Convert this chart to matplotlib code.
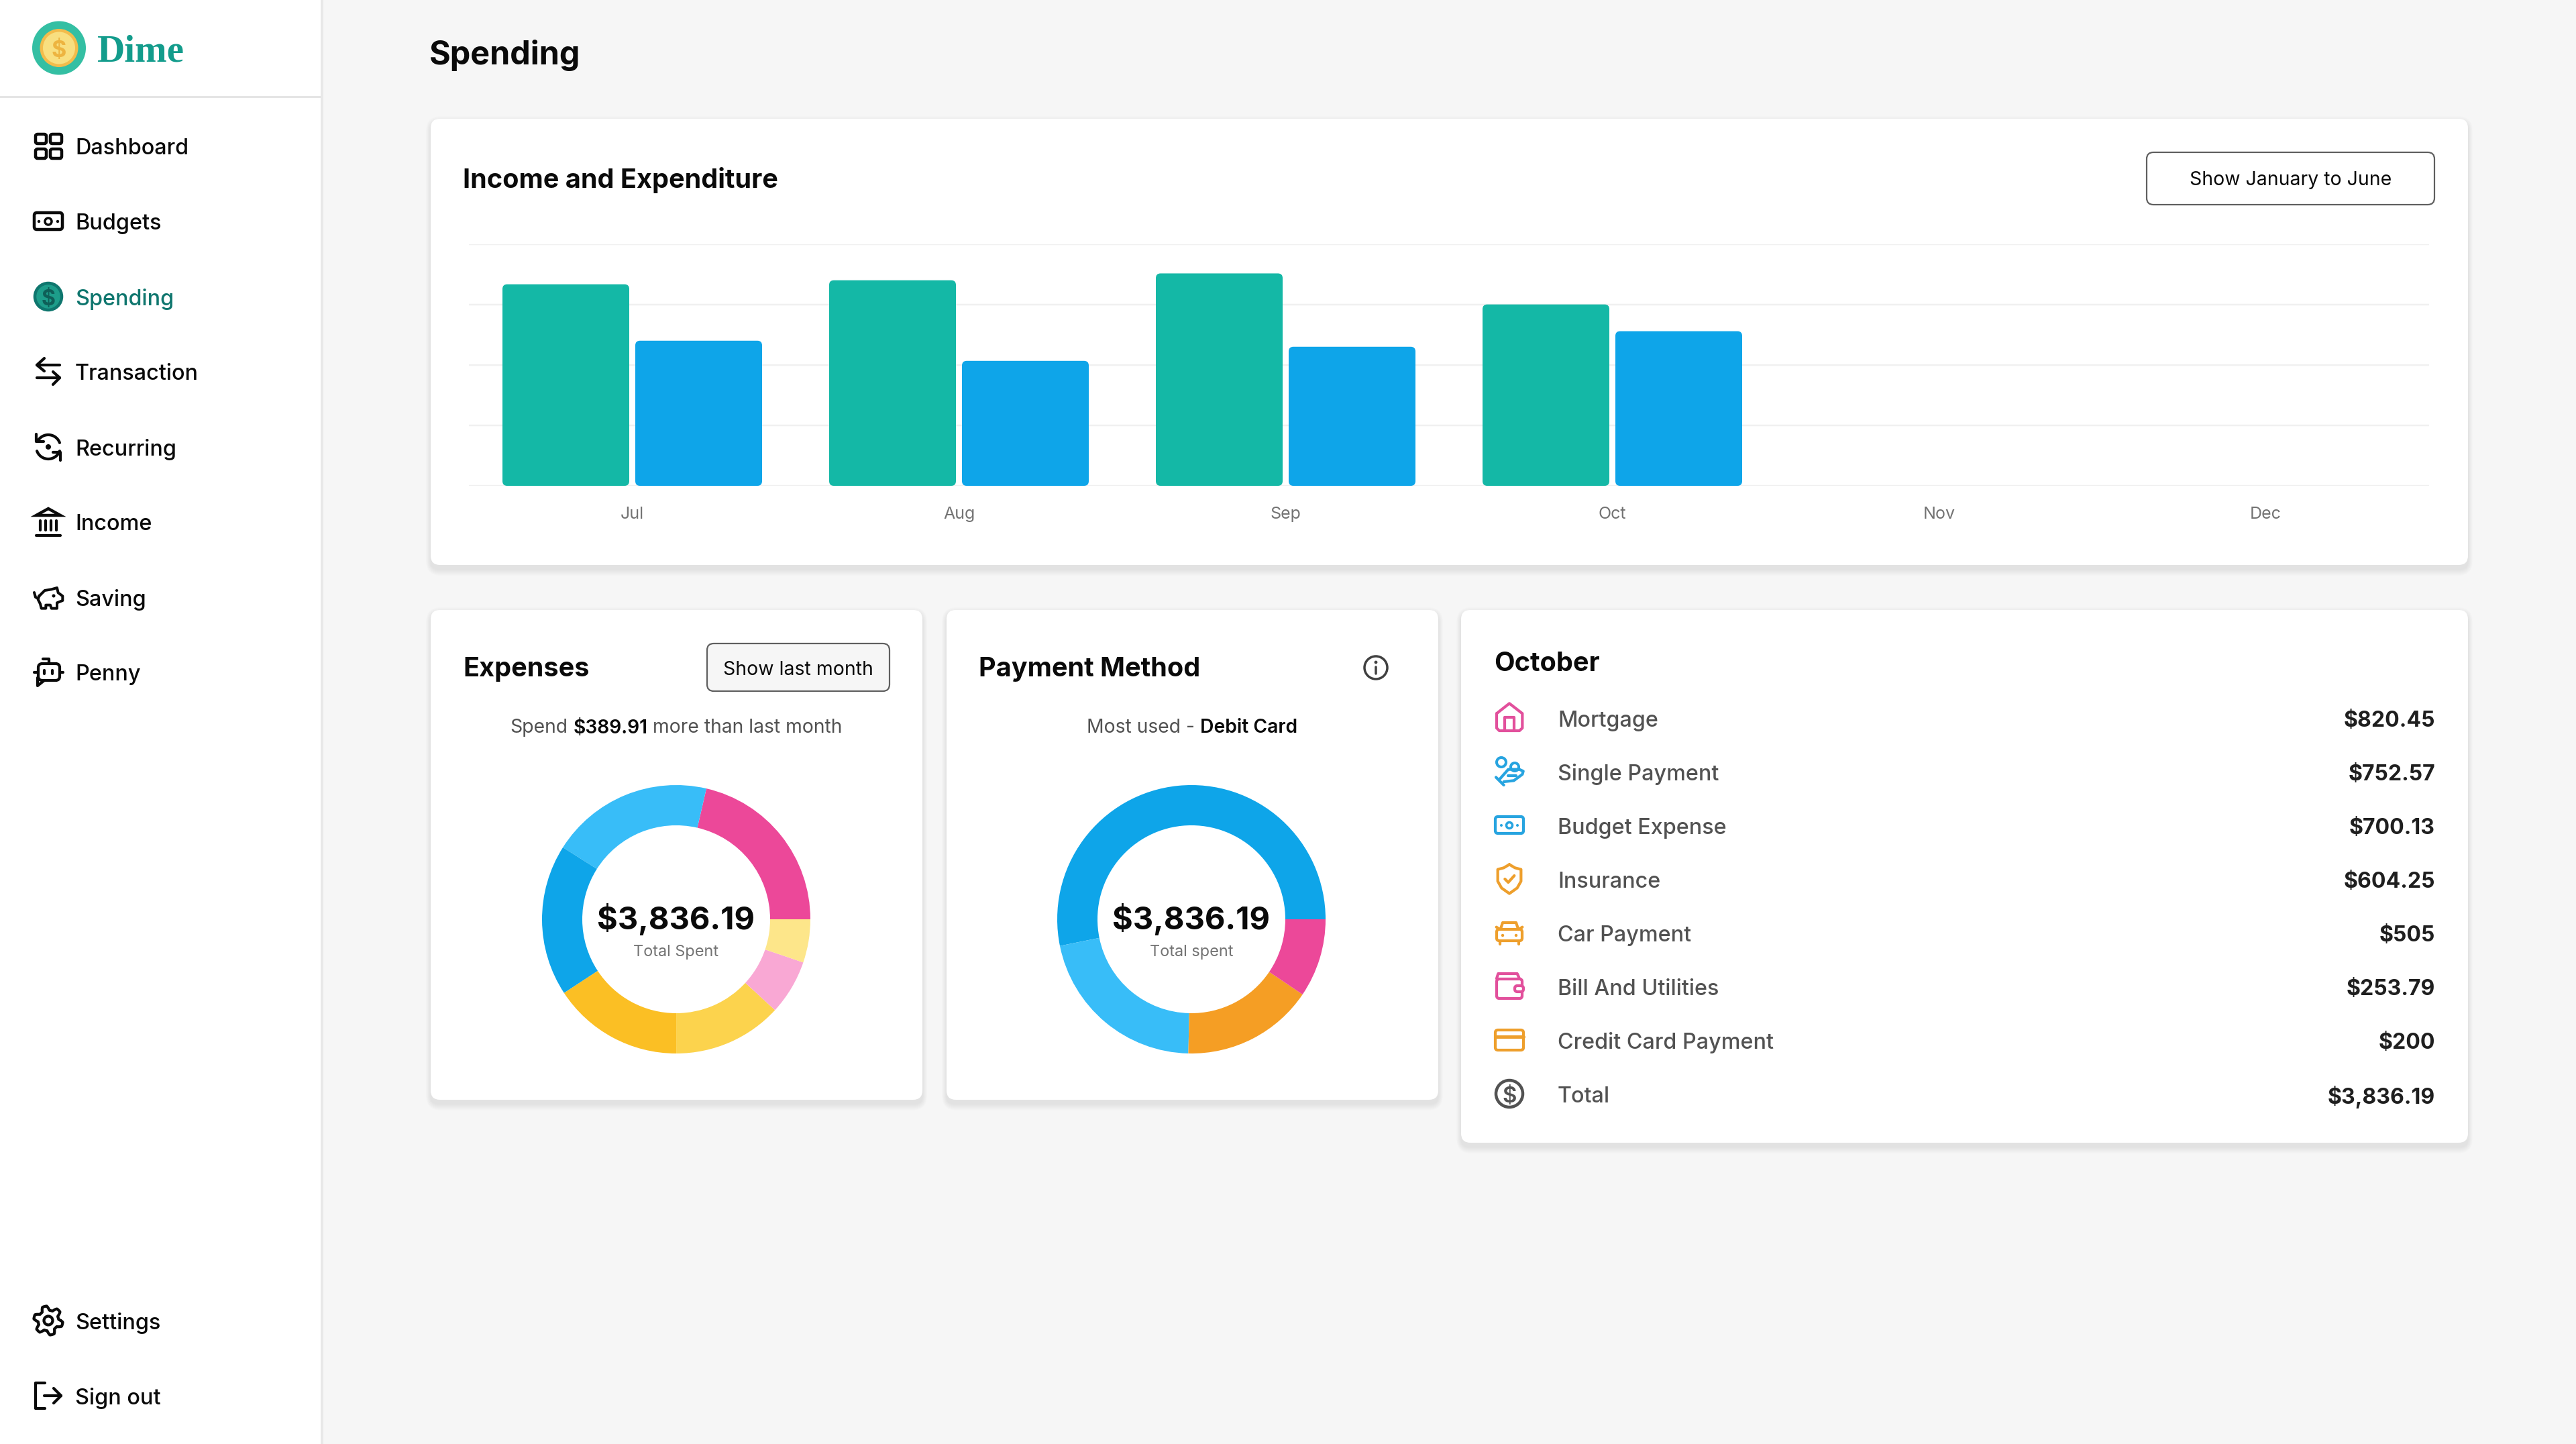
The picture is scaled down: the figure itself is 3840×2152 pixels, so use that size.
import numpy as np
import matplotlib
matplotlib.use('Agg')
import matplotlib.pyplot as plt
from matplotlib.patches import FancyBboxPatch, Circle, Polygon

plt.rcParams['font.family'] = ['Inter', 'DejaVu Sans']

W, H = 3840, 2152

# data
months = ['Jul', 'Aug', 'Sep', 'Oct', 'Nov', 'Dec']
income = [5000, 5100, 5270, 4500, 0, 0]
expenditure = [3600, 3100, 3450, 3836.19, 0, 0]
y_ticks = [0, 1500, 3000, 4500, 6000]

expense_names = ['Mortgage', 'Single Payment', 'Budget Expense', 'Insurance',
                 'Car Payment', 'Bill And Utilities', 'Credit Card Payment']
expense_values = [820.45, 752.57, 700.13, 604.25, 505, 253.79, 200]
expense_labels = ['$820.45', '$752.57', '$700.13', '$604.25', '$505', '$253.79', '$200']
expense_colors = ['#EC4899', '#38BDF8', '#0EA5E9', '#FBBF24', '#FCD34D', '#F9A8D4', '#FDE68A']

payment_values = [2040, 823, 610, 363]
payment_colors = ['#0EA5E9', '#38BDF8', '#F59E24', '#EC4899']

nav_top = ['Dashboard', 'Budgets', 'Spending', 'Transaction', 'Recurring', 'Income', 'Saving', 'Penny']

BG = '#F6F6F6'
INK = '#0A0A0A'
GREY = '#525252'
SOFT = '#737373'
TEAL = '#14B8A6'
DEEP = '#0F766E'
BLUE = '#0EA5E9'
ICON_BLUE = '#27A4E0'
ICON_PINK = '#E2509C'
ICON_ORANGE = '#EE9F2C'

fig = plt.figure(figsize=(W / 100, H / 100), dpi=100, facecolor=BG)
ui = fig.add_axes([0, 0, 1, 1], zorder=0)
ui.set_xlim(0, W)
ui.set_ylim(H, 0)
ui.axis('off')


def px_axes(x0, y0, x1, y1, zorder=2):
    ax = fig.add_axes([x0 / W, 1 - y1 / H, (x1 - x0) / W, (y1 - y0) / H], zorder=zorder)
    ax.patch.set_alpha(0)
    return ax


def label(x, y, s, size, color=INK, weight='normal', ha='left', family=None, **kw):
    if family:
        kw['family'] = family
    return ui.text(x, y, s, fontsize=size * 0.72, color=color, fontweight=weight,
                   ha=ha, va='center_baseline', **kw)


def rrect(x0, y0, x1, y1, r, fc='none', ec='none', lw=0, z=3, alpha=None):
    p = FancyBboxPatch((x0, y0), x1 - x0, y1 - y0, boxstyle=f'round,pad=0,rounding_size={r}',
                       fc=fc, ec=ec, lw=lw * 0.72, zorder=z, alpha=alpha)
    ui.add_patch(p)
    return p


def card(x0, y0, x1, y1):
    # layered soft shadow under the card
    for i in range(10, 0, -1):
        rrect(x0 - i * 0.7, y0 + 6 - i, x1 + i * 0.7, y1 + 6 + i, 12 + i, fc='#000000', z=1, alpha=0.009)
    rrect(x0, y0, x1, y1, 14, fc='white', z=2)


def stroke(pts, color=INK, lw=4.2, z=4, closed=False):
    pts = np.asarray(pts, dtype=float)
    if closed:
        pts = np.vstack([pts, pts[:1]])
    ui.plot(pts[:, 0], pts[:, 1], color=color, lw=lw * 0.72, solid_capstyle='round',
            solid_joinstyle='round', zorder=z)


def ring(x, y, r, color=INK, lw=4.2, fc='none', z=4):
    ui.add_patch(Circle((x, y), r, fc=fc, ec=color, lw=lw * 0.72, zorder=z))


def dot(x, y, r, color=INK, z=4):
    ui.add_patch(Circle((x, y), r, fc=color, ec='none', zorder=z))


def arc(cx, cy, r, a0, a1, n=40):
    t = np.radians(np.linspace(a0, a1, n))
    return np.column_stack([cx + r * np.cos(t), cy - r * np.sin(t)])


def inline(cx, y, parts, size):
    # centre a run of differently weighted words on cx
    rend = fig.canvas.get_renderer()
    gap = size * 0.28
    items = [label(0, y, s, size, color=c, weight=w) for s, c, w in parts]
    widths = [t.get_window_extent(rend).width for t in items]
    x = cx - (sum(widths) + gap * (len(items) - 1)) / 2
    for t, w in zip(items, widths):
        t.set_x(x)
        x += w + gap


# ---- sidebar
ui.add_patch(plt.Rectangle((0, 0), 478, H, fc='white', ec='none', zorder=1))
ui.add_patch(plt.Rectangle((478, 0), 4, H, fc='#E8E8E8', ec='none', zorder=1))
ui.add_patch(plt.Rectangle((0, 143), 478, 3, fc='#E5E5E5', ec='none', zorder=2))

dot(88, 71.5, 40, '#34BFA3')
dot(88, 71.5, 28.5, '#F3BC4B', z=5)
dot(88, 71.5, 24, '#F8DF80', z=6)
label(88, 72, '$', 34, color='#EDB440', weight='bold', ha='center', zorder=7)
label(145, 71, 'Dime', 57, color='#139C8C', weight='bold', family='Liberation Serif')

nav_y = [218, 330, 442, 554, 666, 778, 890, 1002]
for name, y in zip(nav_top, nav_y):
    active = name == 'Spending'
    label(112, y, name, 32.4, color=DEEP if active else INK, weight='medium')
label(112, 1968, 'Settings', 32.4, weight='medium')
label(112, 2080, 'Sign out', 32.4, weight='medium')

cx = 72
# dashboard
for x0, x1 in [(53, 69), (75, 92)]:
    for y0, y1 in [(200, 214), (222, 236)]:
        rrect(x0, y0, x1, y1, 3, ec=INK, lw=4.5, z=4)
# budgets
rrect(51, 317, 93, 342, 4, ec=INK, lw=4.5, z=4)
ring(cx, 330, 5, lw=3.5)
dot(58, 330, 2.2)
dot(86, 330, 2.2)
# spending
ring(cx, 442, 20, color=DEEP, lw=4.5, fc='#1D9D8A')
label(cx, 443, '$', 32, color='#0E5F58', weight='bold', ha='center', zorder=5)
# transaction
stroke([(55, 544), (89, 544)])
stroke([(66, 534), (55, 544), (66, 553)])
stroke([(55, 563), (89, 563)])
stroke([(79, 554), (89, 563), (79, 573)])
# recurring
stroke(arc(cx, 666, 18, 20, 150))
stroke(arc(cx, 666, 18, 200, 340))
stroke([(54, 647), (54, 658), (65, 658)])
stroke([(90, 686), (90, 674), (79, 674)])
dot(cx, 666, 4)
# income
ui.add_patch(Polygon([(72, 758), (90, 768), (54, 768)], closed=True, fc='white', ec=INK, lw=3.2, zorder=4))
for x in [60, 67.5, 76, 84]:
    stroke([(x, 776), (x, 790)])
stroke([(54, 798), (90, 798)])
# saving
pig = [(85, 115), (110, 90), (140, 85), (165, 78), (170, 100), (190, 115), (190, 135), (165, 145),
       (165, 170), (140, 170), (135, 155), (115, 155), (115, 170), (95, 170), (90, 150), (80, 130)]
pig = [(30 + a / 3, 850 + b / 3) for a, b in pig]
stroke(pig, closed=True, lw=4)
stroke([(51, 883), (53, 890), (57, 892)], lw=4)
dot(80, 888, 2.5)
# penny
rrect(57, 989, 89, 1014, 6, ec=INK, lw=4.2, z=4, fc='white')
stroke([(56, 1010), (56, 1022), (66, 1014)])
stroke([(73, 989), (73, 982), (64, 982)])
stroke([(51, 1002), (56, 1002)])
stroke([(90, 1002), (94, 1002)])
stroke([(66, 999), (66, 1004)])
stroke([(78, 999), (78, 1004)])
# settings
t = np.linspace(0, 2 * np.pi, 240)
gear_r = 18.5 + 3.2 * np.clip(1.6 * np.cos(6 * t + np.pi / 2 * 3), -1, 1)
stroke(np.column_stack([cx + gear_r * np.cos(t), 1968 + gear_r * np.sin(t)]))
ring(cx, 1968, 6.5)
# sign out
stroke([(67, 2061), (53, 2061), (53, 2099), (67, 2099)])
stroke([(66, 2080), (91, 2080)])
stroke([(80, 2069), (91, 2080), (80, 2091)])

# ---- page title
label(640, 78, 'Spending', 48.5, weight='bold')

# ---- income and expenditure card
card(642, 177, 3679, 842)
label(690, 265, 'Income and Expenditure', 39.6, weight='bold')
rrect(3200, 227, 3629, 305, 10, fc='white', ec='#5F5F5F', lw=2.2, z=3)
label(3414.5, 266, 'Show January to June', 28.4, color=INK, ha='center')

ax = px_axes(699, 363.6, 3621, 724)
ax.set_xlim(-0.5, 5.5)
ax.set_ylim(0, 6000)
ax.set_xticks(range(len(months)))
ax.set_xticklabels(months, fontsize=25 * 0.72, color=SOFT)
ax.set_yticks(y_ticks)
ax.tick_params(axis='x', length=0, pad=22.5)
ax.tick_params(axis='y', length=0, labelleft=False)
ax.grid(axis='y', color='#F0F0F0', lw=2.5 * 0.72)
ax.set_axisbelow(True)
for s in ax.spines.values():
    s.set_visible(False)

bar_w = 189 / 487
bar_gap = 9 / 487
corner = 7 / 487
aspect = (6000 / 360.4) * 487
for i in range(len(months)):
    for val, color, x0 in [(income[i], TEAL, i - bar_gap / 2 - bar_w),
                           (expenditure[i], BLUE, i + bar_gap / 2)]:
        if val > 0:
            ax.add_patch(FancyBboxPatch((x0, 0), bar_w, val,
                                        boxstyle=f'round,pad=0,rounding_size={corner}',
                                        mutation_aspect=aspect, fc=color, ec='none', zorder=3))

# ---- expenses card
card(642, 909, 1375, 1639)
label(690, 994, 'Expenses', 39.6, weight='bold')
rrect(1054, 959, 1326, 1030, 10, fc=BG, ec='#5F5F5F', lw=2.2, z=3)
label(1190, 995, 'Show last month', 28.4, ha='center')
inline(1008, 1082, [('Spend', GREY, 'normal'), ('$389.91', INK, 'semibold'),
                    ('more than last month', GREY, 'normal')], 28.3)

# ---- payment card
card(1411, 909, 2144, 1639)
label(1459, 994, 'Payment Method', 39.6, weight='bold')
ring(2051, 995, 17, color='#404040', lw=3.5)
dot(2051, 987, 2.4, '#404040')
stroke([(2051, 994), (2051, 1004)], color='#404040', lw=3.5)
inline(1777, 1082, [('Most used -', GREY, 'normal'), ('Debit Card', INK, 'semibold')], 28.3)


def donut(cx, cy, values, colors, caption):
    a = px_axes(cx - 200, cy - 200, cx + 200, cy + 200)
    a.pie(values, colors=colors, startangle=0, counterclock=True, radius=1,
          wedgeprops=dict(width=0.3, linewidth=0))
    a.set_xlim(-1, 1)
    a.set_ylim(-1, 1)
    label(cx, cy - 4, '$3,836.19', 47, weight='bold', ha='center')
    label(cx, cy + 46, caption, 23.5, color=SOFT, ha='center')


donut(1008, 1370, expense_values, expense_colors, 'Total Spent')
donut(1776, 1370, payment_values, payment_colors, 'Total spent')

# ---- october card
card(2178, 909, 3679, 1703)
label(2227, 985, 'October', 39.6, weight='bold')
row_y = [1071, 1151, 1231, 1311, 1391, 1471, 1551, 1631]
for name, val, y in zip(expense_names + ['Total'], expense_labels + ['$3,836.19'], row_y):
    label(2322, y, name, 32.3, color=GREY, weight='medium')
    label(3630, y, val, 32, color='#1F1F1F', weight='bold', ha='right')


def zi(points, y0=1030):
    return [(2200 + a / 3, y0 + b / 3) for a, b in points]


# home
stroke(zi([(93, 100), (150, 55), (208, 100), (208, 165), (195, 177), (105, 177), (93, 165)]),
       color=ICON_PINK, closed=True)
stroke(zi([(128, 177), (128, 118), (172, 118), (172, 177)]), color=ICON_PINK)
# single payment
ring(2238, 1136, 7, color=ICON_BLUE, lw=4)
ring(2258, 1143, 6, color=ICON_BLUE, lw=4)
stroke(zi([(90, 385), (125, 420)]), color=ICON_BLUE)
stroke(zi([(108, 392), (145, 350), (170, 350), (195, 350), (212, 358), (208, 372), (170, 400), (125, 405)]),
       color=ICON_BLUE)
stroke(zi([(145, 378), (180, 378)]), color=ICON_BLUE)
# budget expense
rrect(2229, 1217, 2271, 1242, 4, ec=ICON_BLUE, lw=4.2, z=4)
ring(2250, 1230, 4.5, color=ICON_BLUE, lw=3.5)
dot(2238, 1230, 2, ICON_BLUE)
dot(2262, 1230, 2, ICON_BLUE)
# insurance
stroke(zi([(150, 775), (175, 790), (202, 797), (202, 850), (185, 880), (150, 905),
           (115, 880), (98, 850), (98, 797), (125, 790)]), color=ICON_ORANGE, closed=True)
stroke(zi([(130, 840), (145, 855), (172, 825)]), color=ICON_ORANGE)
# car
rrect(2231, 1385, 2269, 1402, 4, ec=ICON_ORANGE, lw=4.2, z=4)
stroke(zi([(110, 135), (120, 105), (180, 105), (190, 135)], 1340), color=ICON_ORANGE)
stroke(zi([(92, 125), (108, 135)], 1340), color=ICON_ORANGE)
stroke(zi([(208, 125), (192, 135)], 1340), color=ICON_ORANGE)
dot(2240, 1394, 2.2, ICON_ORANGE)
dot(2260, 1394, 2.2, ICON_ORANGE)
stroke(zi([(108, 192), (108, 200)], 1340), color=ICON_ORANGE)
stroke(zi([(192, 192), (192, 200)], 1340), color=ICON_ORANGE)
# wallet
rrect(2231, 1459, 2269, 1488, 4, ec=ICON_PINK, lw=4.2, z=4)
stroke(zi([(93, 355), (100, 333), (185, 333), (195, 355)], 1340), color=ICON_PINK)
rrect(2258, 1469, 2271, 1478, 4, fc='white', ec=ICON_PINK, lw=4.2, z=5)
# credit card
rrect(2229, 1535, 2271, 1565, 4, ec=ICON_ORANGE, lw=4.2, z=4)
stroke([(2229, 1545), (2271, 1545)], color=ICON_ORANGE, lw=5)
# total
ring(2250, 1630, 20, color=GREY, lw=4.5)
label(2250, 1631, '$', 33, color=GREY, weight='semibold', ha='center', zorder=5)

fig.savefig('out.png', dpi=100, facecolor=BG)
